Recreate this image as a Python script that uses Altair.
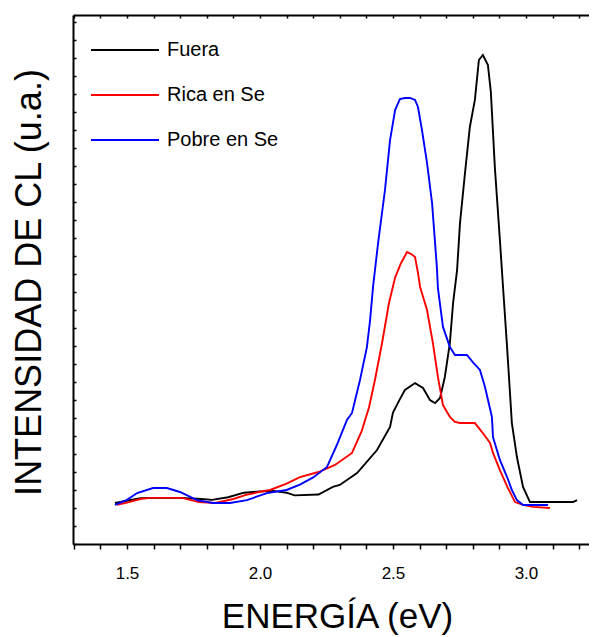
import altair as alt
import pandas as pd

# ---------------- data ----------------
series_names = ["Fuera", "Rica en Se", "Pobre en Se"]
series_colors = ["#000000", "#ff0000", "#0000ff"]

fuera_ev = [1.455, 1.50, 1.55, 1.60, 1.70, 1.78, 1.82, 1.88, 1.94, 2.00, 2.05, 2.10,
            2.13, 2.22, 2.274, 2.30, 2.338, 2.365, 2.44, 2.489, 2.50, 2.526, 2.545,
            2.583, 2.613, 2.639, 2.658, 2.677, 2.695, 2.714, 2.726, 2.741, 2.752,
            2.77, 2.789, 2.808, 2.823, 2.838, 2.857, 2.868, 2.883, 2.902, 2.914,
            2.929, 2.947, 2.966, 2.989, 3.015, 3.10, 3.177, 3.192]
fuera_int = [2.28, 2.40, 2.55, 2.56, 2.56, 2.50, 2.45, 2.60, 2.85, 2.92, 2.95, 2.85,
             2.70, 2.75, 3.17, 3.28, 3.67, 3.94, 5.22, 6.50, 7.30, 8.05, 8.56,
             8.94, 8.67, 8.00, 7.83, 8.11, 9.28, 11.17, 13.39, 15.22, 17.83,
             20.50, 23.17, 24.67, 26.89, 27.17, 26.61, 25.11, 20.94, 16.89, 14.22,
             10.94, 6.72, 4.83, 3.17, 2.33, 2.33, 2.33, 2.44]

rica_ev = [1.462, 1.50, 1.55, 1.586, 1.65, 1.707, 1.771, 1.831, 1.90, 1.944, 2.00,
           2.038, 2.10, 2.15, 2.22, 2.282, 2.346, 2.383, 2.41, 2.432, 2.459, 2.485,
           2.508, 2.53, 2.553, 2.57, 2.583, 2.594, 2.602, 2.628, 2.65, 2.669, 2.688,
           2.714, 2.733, 2.752, 2.808, 2.835, 2.865, 2.876, 2.902, 2.932, 2.959,
           2.989, 3.026, 3.09]
rica_int = [2.17, 2.30, 2.50, 2.56, 2.56, 2.56, 2.33, 2.28, 2.50, 2.72, 2.90,
            3.00, 3.35, 3.72, 4.00, 4.39, 5.06, 6.30, 7.60, 9.10, 11.17, 13.39,
            14.80, 15.60, 16.22, 16.10, 15.94, 15.06, 14.28, 13.00, 11.17, 9.28, 7.72,
            7.06, 6.78, 6.72, 6.72, 6.22, 5.61, 5.06, 4.11, 3.11, 2.33,
            2.17, 2.06, 2.00]

pobre_ev = [1.455, 1.50, 1.538, 1.598, 1.65, 1.699, 1.763, 1.823, 1.887, 1.951,
            2.026, 2.10, 2.15, 2.20, 2.252, 2.289, 2.327, 2.346, 2.376, 2.402, 2.414,
            2.425, 2.444, 2.47, 2.489, 2.508, 2.526, 2.545, 2.564, 2.583, 2.594,
            2.609, 2.628, 2.647, 2.665, 2.669, 2.688, 2.714, 2.733, 2.778, 2.80,
            2.827, 2.846, 2.872, 2.876, 2.902, 2.929, 2.947, 2.966, 2.989, 3.083]
pobre_int = [2.17, 2.45, 2.83, 3.11, 3.11, 2.89, 2.44, 2.28, 2.28, 2.44,
             2.83, 3.00, 3.30, 3.70, 4.28, 5.50, 6.89, 7.28, 9.11, 10.94, 12.44,
             14.28, 16.72, 19.67, 22.44, 24.11, 24.72, 24.78, 24.78, 24.67, 24.28,
             23.00, 21.17, 18.94, 15.39, 14.22, 12.06, 10.94, 10.50, 10.50, 10.11,
             9.67, 8.72, 7.06, 5.94, 4.67, 3.72, 3.00, 2.44, 2.17, 2.17]

x_ticks = [1.3, 1.4, 1.5, 1.6, 1.7, 1.8, 1.9, 2.0, 2.1, 2.2, 2.3, 2.4, 2.5, 2.6,
           2.7, 2.8, 2.9, 3.0, 3.1, 3.2]
x_labeled = ["1.5", "2.0", "2.5", "3.0"]
y_ticks = list(range(0, 30))

x_domain = [1.297, 3.237]
y_domain = [0, 29.39]

# ---------------- table ----------------
rows = []
for name, evs, ints in zip(series_names,
                           [fuera_ev, rica_ev, pobre_ev],
                           [fuera_int, rica_int, pobre_int]):
    for i, (e, v) in enumerate(zip(evs, ints)):
        rows.append({"serie": name, "ev": e, "int": v, "orden": i})
df = pd.DataFrame(rows)

FONT = "Liberation Sans"
xscale = alt.Scale(domain=x_domain, nice=False, zero=False)
yscale = alt.Scale(domain=y_domain, nice=False, zero=False)

label_expr = ("indexof([" + ",".join(f"'{v}'" for v in x_labeled) +
              "], format(datum.value, '.1f')) >= 0 ? format(datum.value, '.1f') : ''")

lines = alt.Chart(df).mark_line(strokeWidth=1.9).encode(
    x=alt.X("ev:Q", scale=xscale, axis=alt.Axis(
        orient="bottom", values=x_ticks, labelExpr=label_expr,
        title="ENERGÍA (eV)", grid=False,
        domainColor="black", domainWidth=2,
        tickColor="black", tickWidth=1.5, tickSize=5,
        labelFontSize=17, labelFont=FONT, labelColor="black", labelPadding=16,
        labelFlush=False, labelOverlap=False,
        titleFontSize=35, titleFont=FONT, titleFontWeight="normal",
        titleColor="black", titleBaseline="alphabetic", titleY=83,
        titleX=264)),
    y=alt.Y("int:Q", scale=yscale, axis=alt.Axis(
        orient="left", grid=False, domainColor="black", domainWidth=2,
        ticks=False, labels=False,
        title="INTENSIDAD DE CL (u.a.)", titleFontSize=36, titleFont=FONT,
        titleFontWeight="normal", titleColor="black", titleAngle=270,
        titleBaseline="alphabetic", titleAlign="center", titleX=-33, titleY=267)),
    color=alt.Color("serie:N",
                    scale=alt.Scale(domain=series_names, range=series_colors),
                    legend=alt.Legend(
                        orient="none", legendX=18, legendY=25, title=None,
                        symbolType="M-4,0H4", symbolSize=289, symbolStrokeWidth=2,
                        symbolOffset=24, labelOffset=32,
                        labelFontSize=20, labelFont=FONT, labelColor="black",
                        rowPadding=25, padding=0, labelLimit=400)),
    order=alt.Order("orden:Q"),
)

hidden = alt.Chart(df).mark_point(opacity=0, size=1)

top_domain = hidden.encode(
    x=alt.X("ev:Q", scale=xscale, axis=alt.Axis(
        orient="top", domainColor="black", domainWidth=2, ticks=False,
        labels=False, title=None, grid=False)),
    y=alt.Y("int:Q", scale=yscale, axis=None),
)

top_ticks = hidden.encode(
    x=alt.X("ev:Q", scale=xscale, axis=alt.Axis(
        orient="top", offset=-3, domain=False, tickSize=3, tickWidth=1.5,
        tickColor="black", labels=False, values=x_ticks, title=None, grid=False)),
    y=alt.Y("int:Q", scale=yscale, axis=None),
)

left_ticks = hidden.encode(
    x=alt.X("ev:Q", scale=xscale, axis=None),
    y=alt.Y("int:Q", scale=yscale, axis=alt.Axis(
        orient="left", offset=-3, domain=False, tickSize=3, tickWidth=1.5,
        tickColor="black", labels=False, values=y_ticks, title=None, grid=False)),
)

chart = alt.layer(lines, top_domain, top_ticks, left_ticks).resolve_axis(
    x="independent", y="independent"
).properties(
    width=516, height=529,
    autosize=alt.AutoSizeParams(type="none"),
    padding={"left": 65, "top": 7, "right": 0, "bottom": 93},
    background="white",
).configure_view(stroke=None)

chart.save("out.html", embed_options={"renderer": "svg", "actions": False})
